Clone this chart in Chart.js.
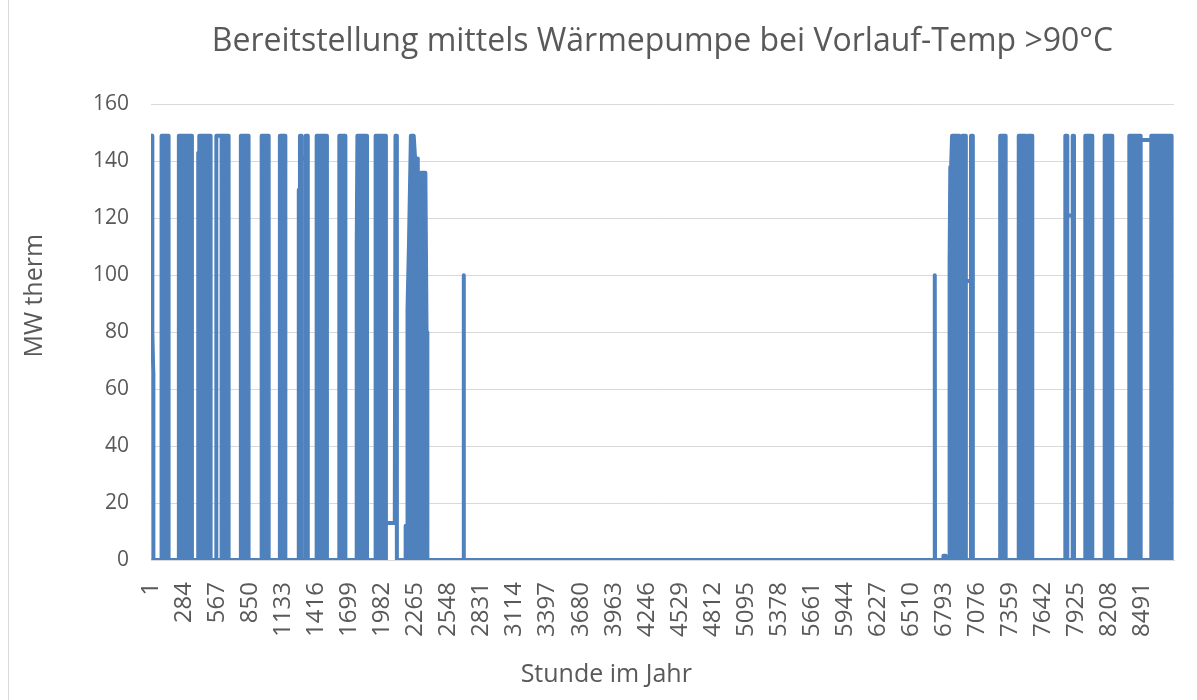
<!DOCTYPE html>
<html lang="de">
<head>
<meta charset="UTF-8">
<title>Bereitstellung mittels Wärmepumpe</title>
<script src="https://cdn.jsdelivr.net/npm/chart.js"></script>
<style>
  html, body { margin: 0; padding: 0; background: #fff; }
  #wrap { width: 1197px; height: 700px; }
</style>
</head>
<body>
<div id="wrap"><canvas id="chart" width="1197" height="700"></canvas></div>
<script>
// hour of year / MW for the dense on-off blocks (outline of the filled areas), null = break
const blockHour = [21, 91, 91, 151, 151, 239, 239, 351, 351,
  405, 405, 412, 414, 511, 511, 605, 605, 665, 665, 770, 770, 836, 836,
  948, 948, 1008, 1008, 1104, 1104, 1151, 1151,
  1266, 1266, 1272, 1276, 1290, 1290, 1325, 1325, 1343, 1343,
  1419, 1419, 1507, 1507, 1613, 1613, 1665, 1665,
  1762, 1762, 1768, 1850, 1850, 1924, 1924, 2012, 2012, 2013,
  2106, 2181, 2181, 2196, 2197, 2210, 2226, 2250, 2262, 2285, 2290, 2300, 2312, 2350, 2360, 2366, 2367,
  2676, 2678, 2680,
  6710, 6712, 6714, 6783, 6786, 6806, 6809,
  6835, 6836, 6842, 6845, 6852, 6860, 6922, 6934, 6946, 6978, 6978,
  7022, 7022, 7038, 7038, 7272, 7272, 7319, 7319,
  7431, 7431, 7495, 7503, 7510, 7547, 7547,
  7830, 7830, 7847, 7847, 7893, 7893, 7904, 7904,
  8001, 8001, 8061, 8061, 8167, 8167, 8232, 8232,
  8378, 8378, 8475, 8475, 8566, 8566, 8740, 8740];
const blockMW = [0, 0, 149, 149, 0, 0, 149, 149, 0,
  0, 143, 143, 149, 149, 0, 0, 149, 149, 0, 0, 149, 149, 0,
  0, 149, 149, 0, 0, 149, 149, 0,
  0, 130, 130, 149, 149, 0, 0, 149, 149, 0,
  0, 149, 149, 0, 0, 149, 149, 0,
  0, 110, 149, 149, 0, 0, 149, 149, 0, null,
  0, 0, 12, 12, 88, 112, 149, 149, 141, 141, 94, 82, 136, 136, 80, 80, 0,
  0, 100, 0,
  0, 100, 0, 0, 1.5, 1.5, 0,
  0, 105, 105, 138, 138, 149, 149, 146, 149, 149, 0,
  0, 149, 149, 0, 0, 149, 149, 0,
  0, 149, 149, 143, 149, 149, 0,
  0, 149, 149, 0, 0, 149, 149, 0,
  0, 149, 149, 0, 0, 149, 149, 0,
  0, 149, 149, 0, 0, 149, 149, 0];

// single strokes with white space underneath
const strokeHour = [1, 10, 12, 20, 21, 22,
  558, 560, 605, 606,
  1290, 1325, 1326,
  2012, 2088, 2094, 2102, 2106, 2107,
  6978, 7022, 7023,
  7847, 7893, 7894,
  8475, 8566];
const strokeMW = [149, 149, 80, 66, 0, null,
  0, 149, 149, null,
  141, 141, null,
  13, 13, 149, 149, 0, null,
  98, 98, null,
  121, 121, null,
  147.5, 147.5];

const xTickLabels = [1, 284, 567, 850, 1133, 1416, 1699, 1982, 2265, 2548, 2831, 3114, 3397,
  3680, 3963, 4246, 4529, 4812, 5095, 5378, 5661, 5944, 6227, 6510, 6793, 7076, 7359, 7642,
  7925, 8208, 8491];

const blue = '#4F81BD';
const txt = '#595959';
const font = 'Open Sans';

const frame = {
  id: 'frame',
  beforeDraw(chart) {
    const c = chart.ctx;
    c.save();
    c.fillStyle = '#fff';
    c.fillRect(0, 0, chart.width, chart.height);
    c.strokeStyle = '#D9D9D9';
    c.lineWidth = 1;
    c.beginPath();
    c.moveTo(8.5, 0);
    c.lineTo(8.5, chart.height);
    c.stroke();
    c.restore();
  },
  // axis titles sit a bit off the plot centre, like in the Excel original
  afterDraw(chart) {
    const c = chart.ctx;
    const a = chart.chartArea;
    c.save();
    c.fillStyle = txt;
    c.font = '25px "Open Sans"';
    c.textAlign = 'center';
    c.textBaseline = 'middle';
    c.fillText('Stunde im Jahr', a.left + a.width * 0.445, 675);
    c.translate(35, a.top + a.height * 0.42);
    c.rotate(-Math.PI / 2);
    c.fillText('MW therm', 0, 0);
    c.restore();
  }
};

new Chart(document.getElementById('chart'), {
  type: 'line',
  data: {
    datasets: [{
      data: blockHour.map((h, i) => ({ x: h, y: blockMW[i] })),
      borderColor: blue,
      backgroundColor: blue,
      fill: 'origin',
      borderWidth: 4,
      pointRadius: 0,
      borderJoinStyle: 'round',
      borderCapStyle: 'round',
      spanGaps: false
    }, {
      data: strokeHour.map((h, i) => ({ x: h, y: strokeMW[i] })),
      borderColor: blue,
      fill: false,
      borderWidth: 4,
      pointRadius: 0,
      borderJoinStyle: 'round',
      borderCapStyle: 'round',
      spanGaps: false
    }]
  },
  options: {
    responsive: false,
    animation: false,
    layout: { padding: { left: 10, right: 23, top: 0, bottom: 0 } },
    plugins: {
      legend: { display: false },
      tooltip: { enabled: false },
      title: {
        display: true,
        fullSize: false,
        text: 'Bereitstellung mittels Wärmepumpe bei Vorlauf-Temp >90°C',
        color: txt,
        font: { family: font, size: 32, weight: 'normal' },
        padding: { top: 23, bottom: 43 }
      }
    },
    scales: {
      x: {
        type: 'linear',
        min: 0.5,
        max: 8760.5,
        afterBuildTicks: axis => { axis.ticks = xTickLabels.map(v => ({ value: v })); },
        afterFit: s => { s.height = 140; },
        grid: { display: false, drawTicks: false },
        border: { display: true, color: '#D9D9D9' },
        ticks: {
          autoSkip: false,
          minRotation: 90,
          maxRotation: 90,
          padding: 22,
          color: txt,
          font: { family: font, size: 24 },
          callback: v => String(v)
        }
      },
      y: {
        min: 0,
        max: 160,
        afterFit: s => { s.width = 141; },
        grid: { color: '#D9D9D9', drawTicks: false },
        border: { display: false },
        ticks: {
          stepSize: 20,
          padding: 22,
          color: txt,
          font: { family: font, size: 21 }
        }
      }
    }
  },
  plugins: [frame]
});
</script>
</body>
</html>
